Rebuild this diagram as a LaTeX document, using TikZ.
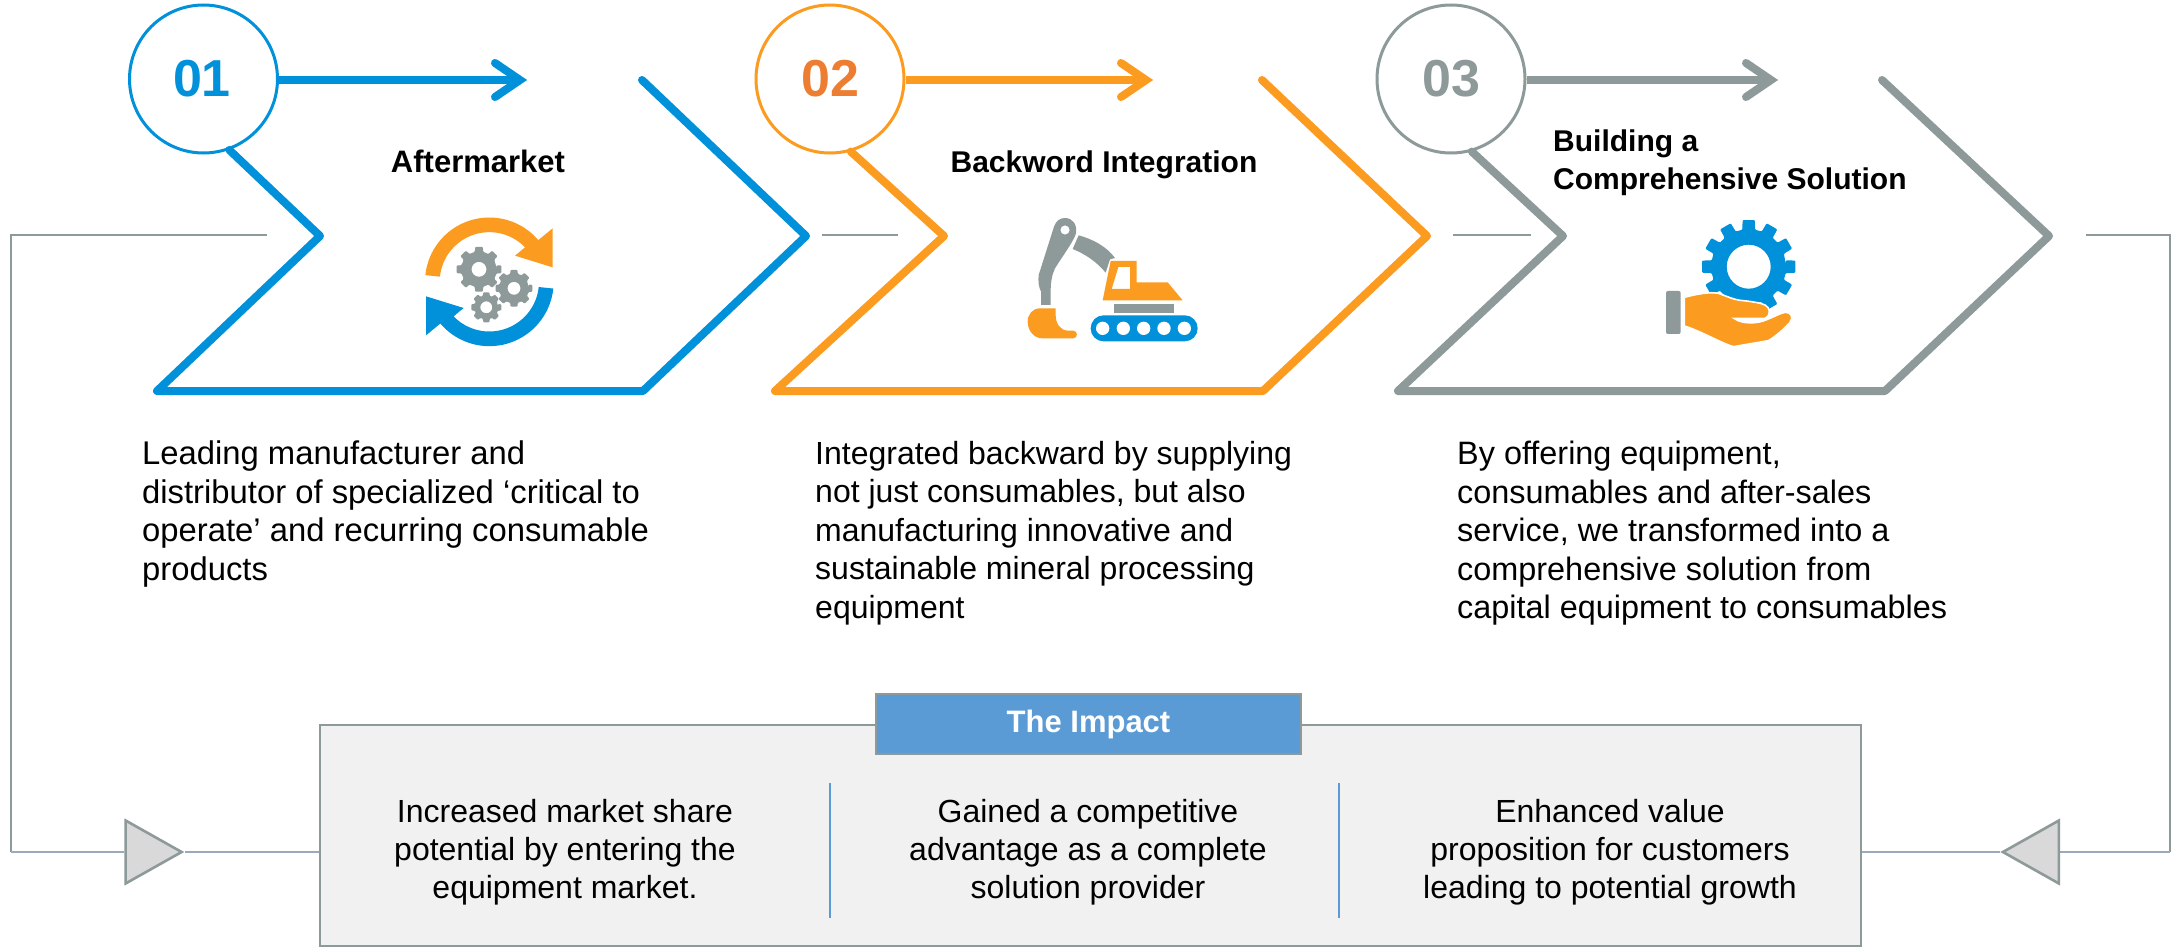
\documentclass[tikz,border=0pt]{standalone}
\usepackage{fontspec}
\setmainfont{Liberation Sans}
\usetikzlibrary{shapes.geometric,calc}
\definecolor{cblue}{HTML}{0091DA}
\definecolor{corange}{HTML}{FB9B1F}
\definecolor{cgray}{HTML}{8E9999}
\definecolor{cnum}{HTML}{ED7D31}
\definecolor{cline}{HTML}{9AA9BC}
\definecolor{cbanner}{HTML}{5B9BD5}
\definecolor{cbox}{HTML}{F1F1F1}
\definecolor{ctri}{HTML}{D9D9D9}
\tikzset{
  x=1pt,y=-1pt,
  numcircle/.style={circle,draw=#1,line width=3pt,fill=white,minimum size=148pt,inner sep=0pt},
  numtext/.style={text=#1,font=\fontsize{52}{52}\selectfont\bfseries},
  chevron/.style={draw=#1,line width=8pt,line join=round,line cap=round},
  shaft/.style={draw=#1,line width=8pt},
  barb/.style={draw=#1,line width=8pt,line cap=round,line join=miter},
  title/.style={font=\fontsize{30}{37.5}\selectfont\bfseries,text=black,align=left},
  para/.style={text=black,align=left,anchor=north west,inner sep=0pt},
  boxtext/.style={font=\fontsize{32}{38}\selectfont,text=black,align=center,inner sep=0pt},
  graywire/.style={draw=cgray,line width=2.4pt,line join=miter},
  bluewire/.style={draw=cline,line width=2.6pt},
  tri/.style={isosceles triangle,isosceles triangle stretches,draw=cgray,fill=ctri,line width=2.6pt,minimum width=63pt,minimum height=56pt,inner sep=0pt,shape border rotate=#1},
  divider/.style={draw=cbanner,line width=2.4pt},
}
\newcommand{\gearshape}[8]{% x,y,teeth,Router,Rroot,hole,halfwidth deg,colour
  \begin{scope}[shift={(#1,#2)},x=1pt,y=1pt]
  \fill[#8,even odd rule,rounded corners=1pt]
    (0:#5) \foreach \i [evaluate=\i as \a using \i*360/#3] in {1,...,#3} {
      -- ({\a-#7*1.3}:#5) -- ({\a-#7}:#4) -- ({\a+#7}:#4) -- ({\a+#7*1.3}:#5)
    } -- cycle (0,0) circle (#6);
  \end{scope}}
\begin{document}
\begin{tikzpicture}
\useasboundingbox (0,0) rectangle (2177,947);
\fill[white] (0,0) rectangle (2177,947);
% numbered circles
\node[numcircle=cblue,numtext=cblue] (c1) at (203.5,79) {\hspace{-3pt}01};
\node[numcircle=corange,numtext=cnum] (c2) at (830,79) {02};
\node[numcircle=cgray,numtext=cgray] (c3) at (1451,79) {03};
% chevrons
\coordinate (ch1a) at (320,236); \coordinate (ch1b) at (157,391); \coordinate (ch1c) at (643,391); \coordinate (ch1d) at (806,236); \coordinate (ch1e) at (642,80);
\coordinate (ch2a) at (944,236); \coordinate (ch2b) at (775,391); \coordinate (ch2c) at (1263,391); \coordinate (ch2d) at (1427,236); \coordinate (ch2e) at (1262,80);
\coordinate (ch3a) at (1563,236); \coordinate (ch3b) at (1398,391); \coordinate (ch3c) at (1885,391); \coordinate (ch3d) at (2049,236); \coordinate (ch3e) at (1882,80);
\draw[chevron=cblue] (c1.-70) -- (ch1a) -- (ch1b) -- (ch1c) -- (ch1d) -- (ch1e);
\draw[chevron=corange] (c2.-74) -- (ch2a) -- (ch2b) -- (ch2c) -- (ch2d) -- (ch2e);
\draw[chevron=cgray] (c3.-74) -- (ch3a) -- (ch3b) -- (ch3c) -- (ch3d) -- (ch3e);
% arrows from the circles
\coordinate (t1) at (520,80); \coordinate (t2) at (1146,80); \coordinate (t3) at (1771,80);
\draw[shaft=cblue] (c1.east |- t1) -- (t1);
\draw[barb=cblue] ($(t1)+(-25,-17)$) -- (t1) -- ($(t1)+(-25,17)$);
\draw[shaft=corange] (c2.east |- t2) -- (t2);
\draw[barb=corange] ($(t2)+(-25,-17)$) -- (t2) -- ($(t2)+(-25,17)$);
\draw[shaft=cgray] (c3.east |- t3) -- (t3);
\draw[barb=cgray] ($(t3)+(-25,-17)$) -- (t3) -- ($(t3)+(-25,17)$);
% titles
\node[title,anchor=base,font=\fontsize{31}{37}\selectfont\bfseries] (h1) at (478,172) {Aftermarket};
\node[title,anchor=base] (h2) at (1104,172) {Backword Integration};
\node[title,anchor=west,inner sep=0pt] (h3) at (1553,162.5) {Building a\\Comprehensive Solution};
% paragraphs
\node[para,font=\fontsize{32.8}{38.5}\selectfont] (p1) at (142,441) {Leading manufacturer and\\distributor of specialized ‘critical to\\operate’ and recurring consumable\\products};
\node[para,font=\fontsize{32}{38.5}\selectfont] (p2) at (815,441) {Integrated backward by supplying\\not just consumables, but also\\manufacturing innovative and\\sustainable mineral processing\\equipment};
\node[para,font=\fontsize{32.4}{38.5}\selectfont] (p3) at (1457,441) {By offering equipment,\\consumables and after-sales\\service, we transformed into a\\comprehensive solution from\\capital equipment to consumables};
% impact box
\node[draw=cgray,fill=cbox,line width=2.6pt,minimum width=1541pt,minimum height=221pt,inner sep=0pt] (box) at (1090.5,835.5) {};
\node[draw=cgray,fill=cbanner,line width=2.6pt,minimum width=425pt,minimum height=60pt,inner sep=0pt,text=white,font=\fontsize{31}{31}\selectfont\bfseries] (banner) at (1088.5,724) {The Impact};
\coordinate (d1a) at (830,783); \coordinate (d1b) at (830,918); \coordinate (d2a) at (1339,783); \coordinate (d2b) at (1339,918);
\draw[divider] (d1a) -- (d1b);
\draw[divider] (d2a) -- (d2b);
\node[boxtext] (b1) at (565,852) {Increased market share\\potential by entering the\\equipment market.};
\node[boxtext] (b2) at (1088,852) {Gained a competitive\\advantage as a complete\\solution provider};
\node[boxtext] (b3) at (1610,852) {Enhanced value\\proposition for customers\\leading to potential growth};
% wires
\node[tri=0,anchor=apex] (tl) at (185,852) {};
\node[tri=180,anchor=apex] (tr) at (1999.5,852) {};
\coordinate (wl1) at (267,235); \coordinate (wl2) at (11,235); \coordinate (wl3) at (11,852);
\coordinate (wr1) at (2086,235); \coordinate (wr2) at (2170,235); \coordinate (wr3) at (2170,852);
\draw[graywire] (wl1) -- (wl2) -- (wl3);
\draw[bluewire] (wl3) -- (tl);
\draw[bluewire] (tl.apex) -- (tl.apex -| box.west);
\draw[graywire] (wr1) -- (wr2) -- (wr3);
\draw[bluewire] (wr3) -- (tr);
\draw[bluewire] (tr.apex) -- (tr.apex -| box.east);
\coordinate (m1a) at (822,235); \coordinate (m1b) at (898,235); \coordinate (m2a) at (1453,235); \coordinate (m2b) at (1531,235);
\draw[graywire] (m1a) -- (m1b);
\draw[graywire] (m2a) -- (m2b);
% icon 1
\begin{scope}[shift={(400,190)},x=0.33333pt,y=-0.33333pt]
\fill[corange] plot[domain=174:40.4,samples=40] ({268+193*cos(\x)},{275.5-193*sin(\x)}) -- (458,115) -- (458,232) -- (345,197) -- plot[domain=44:174,samples=40] ({268+149*cos(\x)},{275.5-149*sin(\x)}) -- cycle;
\fill[cblue] plot[domain=354:220.4,samples=40] ({268+193*cos(\x)},{275.5-193*sin(\x)}) -- (78,436) -- (78,319) -- (191,354) -- plot[domain=224:354,samples=40] ({268+149*cos(\x)},{275.5-149*sin(\x)}) -- cycle;
\end{scope}
\gearshape{479}{269.3}{8}{22.7}{18}{7.5}{10}{cgray}
\gearshape{514}{288.3}{8}{18.7}{15}{6.5}{11}{cgray}
\gearshape{486.3}{307.3}{8}{15.3}{12}{6}{12}{cgray}
% icon 2
\begin{scope}[shift={(980,180)},x=0.33333pt,y=-0.33333pt]
\fill[cgray,even odd rule] (212,375) -- (183,375) -- (183,335) .. controls (176,320) and (174,305) .. (176,285) -- (222,140) .. controls (228,122) and (240,114) .. (255,114) .. controls (278,114) and (294,135) .. (287,163) .. controls (280,185) and (240,240) .. (225,265) .. controls (215,285) and (212,310) .. (212,335) -- cycle (255,150) circle (14);
\fill[cgray] (296,166) .. controls (340,178) and (380,200) .. (405,234) -- (390,238) -- (377,278) .. controls (350,245) and (315,222) .. (278,207) -- cycle;
\fill[corange,even odd rule] (392,243) -- (470,243) -- (470,307) -- (563,307) -- (608,361) -- (368,361) -- cycle (415,261) -- (450,261) -- (450,327) -- (395,327) -- cycle;
\fill[cgray] (402,372) rectangle (582,398);
\fill[cblue,rounded corners=12.9pt] (332,406) rectangle (653,484);
\foreach \hx in {368,430,491,552,613} \fill[white] (\hx,445) circle (20);
\fill[corange] (227,385) -- (180,385) .. controls (158,385) and (143,403) .. (143,425) .. controls (143,452) and (162,475) .. (187,475) -- (280,475) .. controls (294,475) and (294,452) .. (280,452) -- (262,452) .. controls (240,450) and (227,430) .. (227,405) -- cycle;
\end{scope}
% icon 3
\gearshape{1748.7}{266.7}{12}{47}{37.5}{22}{7.5}{cblue}
\begin{scope}[shift={(1630,190)},x=0.33333pt,y=-0.33333pt]
\fill[cgray,rounded corners=2pt] (108,303) rectangle (152,432);
\fill[corange,draw=white,line width=1.6pt] (163,322) .. controls (200,312) and (240,305) .. (265,310) .. controls (290,318) and (310,330) .. (340,332) .. controls (370,335) and (395,340) .. (405,345) .. controls (420,352) and (425,375) .. (405,385) -- (312,385) .. controls (325,395) and (345,400) .. (375,398) .. controls (410,395) and (440,372) .. (465,367) .. controls (482,365) and (492,382) .. (480,397) .. controls (460,420) and (435,440) .. (415,452) -- (310,470) .. controls (275,460) and (210,422) .. (163,408) -- cycle;
\end{scope}
\end{tikzpicture}
\end{document}
